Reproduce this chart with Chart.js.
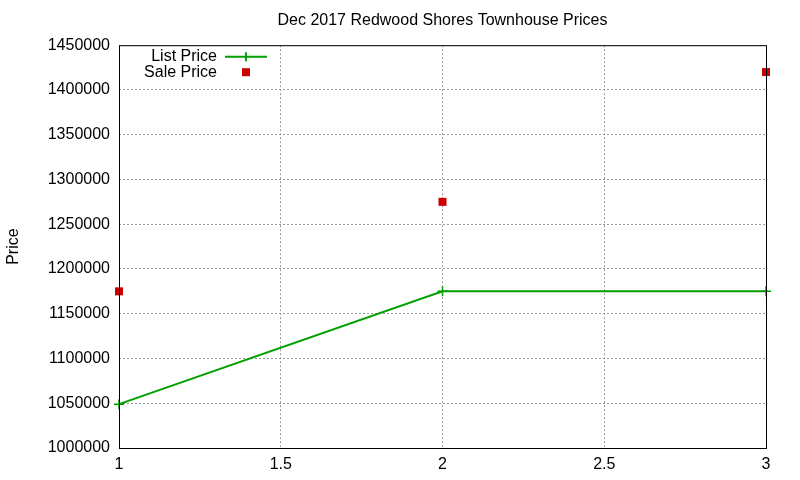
<!DOCTYPE html>
<html>
<head>
<meta charset="utf-8">
<script src="https://cdn.jsdelivr.net/npm/chart.js@4"></script>
<style>
  html, body { margin: 0; padding: 0; background: #fff; }
  #wrap { width: 800px; height: 480px; }
</style>
</head>
<body>
<div id="wrap"><canvas id="priceChart" width="800" height="480"></canvas></div>
<script>
// values
const xValues = [1, 2, 3];
const listPrice = [1049000, 1175000, 1175000];
const salePrice = [1175000, 1275000, 1420000];
const yTicks = [1000000, 1050000, 1100000, 1150000, 1200000, 1250000, 1300000, 1350000, 1400000, 1450000];
const xTicks = [1, 1.5, 2, 2.5, 3];

const FONT = 'Liberation Sans, Arial, sans-serif';
const GREEN = '#00a000';
const RED = '#cc0000';

// black frame round the plot, like gnuplot's border
const borderPlugin = {
    id: 'plotBorder',
    afterDatasetsDraw(chart) {
        const { ctx, chartArea: a } = chart;
        ctx.save();
        ctx.strokeStyle = '#000';
        ctx.lineWidth = 1;
        ctx.strokeRect(a.left + 0.5, a.top + 0.5, a.right - a.left, a.bottom - a.top);
        ctx.restore();
    }
};

// gnuplot-style key: label right-aligned, then the sample
const keyPlugin = {
    id: 'gnuKey',
    afterDraw(chart) {
        const { ctx, chartArea: a } = chart;
        const textRight = a.left + 98;
        const sampleX = a.left + 127;
        ctx.save();
        ctx.font = '16px ' + FONT;
        ctx.fillStyle = '#000';
        ctx.textAlign = 'right';
        ctx.textBaseline = 'middle';
        chart.data.datasets.forEach((ds, i) => {
            const y = a.top + 11.5 + i * 15.5;
            ctx.fillText(ds.label, textRight, y);
            if (ds.showLine !== false) {
                ctx.strokeStyle = ds.borderColor;
                ctx.lineWidth = 2;
                ctx.beginPath();
                ctx.moveTo(sampleX - 21, y);
                ctx.lineTo(sampleX + 21, y);
                ctx.moveTo(sampleX, y - 4.5);
                ctx.lineTo(sampleX, y + 4.5);
                ctx.stroke();
            } else {
                ctx.fillStyle = ds.backgroundColor;
                ctx.fillRect(sampleX - 4, y - 4, 8, 8);
                ctx.fillStyle = '#000';
            }
        });
        ctx.restore();
    }
};

const gridStyle = {
    color: '#999999',
    lineWidth: 1,
    drawTicks: false
};

new Chart(document.getElementById('priceChart'), {
    type: 'scatter',
    data: {
        datasets: [
            {
                label: 'List Price',
                data: xValues.map((x, i) => ({ x: x, y: listPrice[i] })),
                showLine: true,
                borderColor: GREEN,
                backgroundColor: GREEN,
                borderWidth: 2,
                pointStyle: 'cross',
                pointRadius: 5,
                pointBorderWidth: 1.5,
                clip: false
            },
            {
                label: 'Sale Price',
                data: xValues.map((x, i) => ({ x: x, y: salePrice[i] })),
                showLine: false,
                borderColor: RED,
                backgroundColor: RED,
                pointStyle: 'rect',
                pointRadius: 5.66,
                pointBorderWidth: 0,
                clip: false
            }
        ]
    },
    options: {
        responsive: false,
        animation: false,
        layout: { padding: { top: 0, right: 34, bottom: 0, left: 0 } },
        plugins: {
            legend: { display: false },
            tooltip: { enabled: false },
            title: {
                display: true,
                fullSize: false,
                text: 'Dec 2017 Redwood Shores Townhouse Prices',
                color: '#000',
                font: { family: FONT, size: 16, weight: 'normal' },
                padding: { top: 11, bottom: 15 }
            }
        },
        scales: {
            x: {
                type: 'linear',
                min: 1,
                max: 3,
                afterBuildTicks(scale) { scale.ticks = xTicks.map(v => ({ value: v })); },
                afterFit(scale) { scale.height = 32; },
                border: { display: false, dash: [2, 2] },
                grid: gridStyle,
                ticks: {
                    color: '#000',
                    padding: 7,
                    maxRotation: 0,
                    font: { family: FONT, size: 16 },
                    callback: v => String(v)
                }
            },
            y: {
                type: 'linear',
                min: 1000000,
                max: 1450000,
                afterBuildTicks(scale) { scale.ticks = yTicks.map(v => ({ value: v })); },
                afterFit(scale) { scale.width = 119; },
                border: { display: false, dash: [2, 2] },
                grid: gridStyle,
                title: {
                    display: true,
                    text: 'Price',
                    color: '#000',
                    font: { family: FONT, size: 16 },
                    padding: { top: 4, bottom: 0 }
                },
                ticks: {
                    color: '#000',
                    padding: 9,
                    font: { family: FONT, size: 16 },
                    callback: v => String(v)
                }
            }
        }
    },
    plugins: [borderPlugin, keyPlugin]
});
</script>
</body>
</html>
